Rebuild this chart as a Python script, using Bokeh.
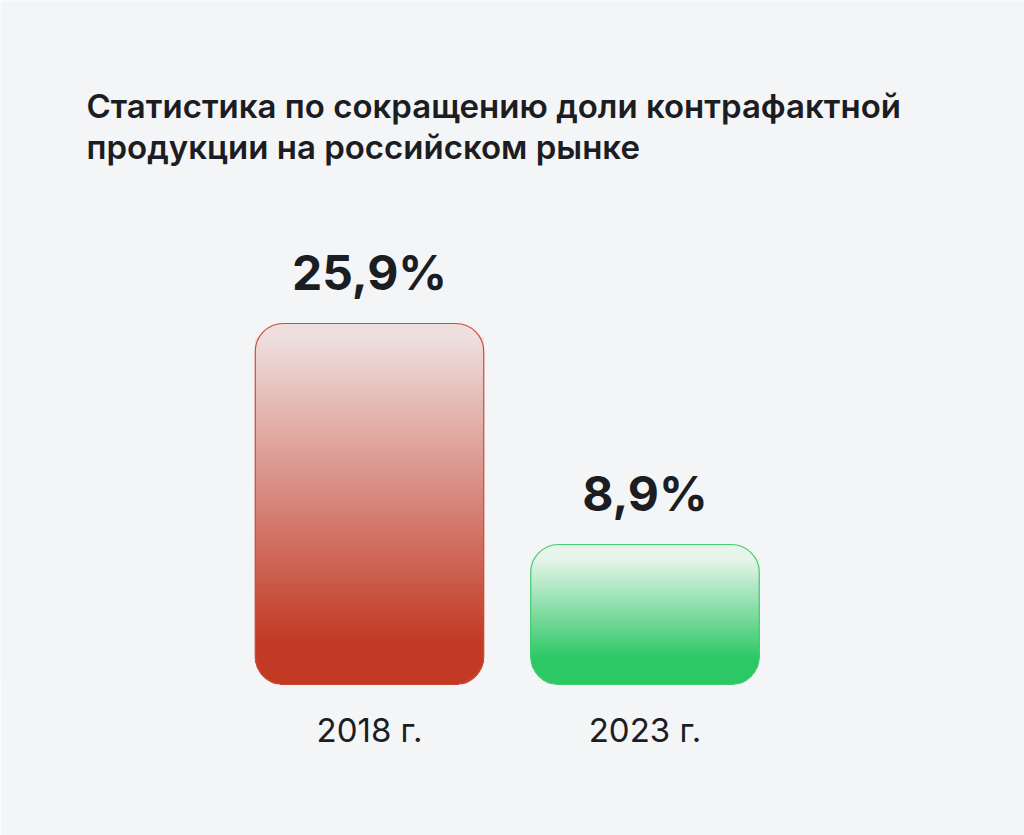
from bokeh.plotting import figure
from bokeh.models import Range1d, FixedTicker, Label, ColumnDataSource
from bokeh.core.properties import value
from bokeh.embed import file_html
from bokeh.resources import INLINE

# ---- data ----
categories = ["2018 г.", "2023 г."]
shares = [25.9, 8.9]
value_labels = ["25,9%", "8,9%"]
title_lines = ["Статистика по сокращению доли контрафактной",
               "продукции на российском рынке"]

# ---- style ----
BG = "#f4f5f7"
TEXT = "#1b1d22"
FONT = "Inter"
TITLE_FONT = "'Inter SemiBold', Inter"
dark_colors = ["#c23a24", "#22c55e"]
light_colors = ["#eedede", "#e6f4ea"]
outline_colors = ["#cf4b3b", "#45cc6c"]
gradient_start = [0.12, 0.15]   # fraction of height where the dark colour ends
bar_base = -1.87                # bars start slightly below zero
PX_PER_UNIT = 13.0
PX_PER_CAT = 275.5
FIG_W, FIG_H = 1024, 835
FRAME_H = 684
RADIUS_PX = 28
bar_width = 228.5 / PX_PER_CAT
x_start = -369 / PX_PER_CAT

x_pos = list(range(len(categories)))

p = figure(width=FIG_W, height=FIG_H, output_backend="svg", toolbar_location=None,
           x_range=Range1d(x_start, x_start + FIG_W / PX_PER_CAT),
           y_range=Range1d(bar_base, bar_base + FRAME_H / PX_PER_UNIT),
           y_axis_location=None,
           min_border_left=0, min_border_right=0, min_border_top=0,
           min_border_bottom=FIG_H - FRAME_H)
p.background_fill_color = BG
p.border_fill_color = BG
p.outline_line_color = None
p.grid.visible = False


def hex_to_rgb(h):
    h = h.lstrip("#")
    return tuple(int(h[i:i + 2], 16) for i in (0, 2, 4))


def mix(c1, c2, t):
    a, b = hex_to_rgb(c1), hex_to_rgb(c2)
    return "#%02x%02x%02x" % tuple(round(a[i] + (b[i] - a[i]) * t) for i in range(3))


rr = RADIUS_PX / PX_PER_UNIT
for i, (xc, v) in enumerate(zip(x_pos, shares)):
    H = v - bar_base
    # base (lightest) bar with all corners rounded
    p.vbar(x=[xc], top=[v], bottom=[bar_base], width=bar_width,
           fill_color=light_colors[i], line_color=None, border_radius=RADIUS_PX)
    # stacked overlays building the vertical gradient
    n = 90 if H * PX_PER_UNIT > 200 else 45
    hi = v - rr * 0.5
    lo = bar_base + rr
    t_end = (hi - bar_base) / H
    step = (hi - lo) / (n - 1)
    tops, cols = [], []
    for k in range(n):
        top = hi - step * k
        t = ((top - step / 2) - bar_base) / H
        g = (t - gradient_start[i]) / (t_end - gradient_start[i])
        tops.append(top)
        cols.append(mix(dark_colors[i], light_colors[i], min(1.0, max(0.0, g))))
    src = ColumnDataSource(dict(x=[xc] * n, top=tops, bottom=[bar_base] * n, color=cols))
    p.vbar(x="x", top="top", bottom="bottom", width=bar_width, source=src,
           fill_color="color", line_color=None,
           border_radius=(0, 0, RADIUS_PX, RADIUS_PX))
    # outline
    p.vbar(x=[xc], top=[v], bottom=[bar_base], width=bar_width,
           fill_color=None, line_color=outline_colors[i], line_width=1.2,
           border_radius=RADIUS_PX)

# value labels above bars
p.text(x=x_pos, y=shares, text=value_labels, text_align="center",
       text_baseline="alphabetic", y_offset=-51,
       text_font=value(FONT), text_font_size="48px", text_font_style="bold",
       text_color=TEXT)

# category axis
ax = p.xaxis[0]
ax.ticker = FixedTicker(ticks=x_pos)
ax.major_label_overrides = {x: c for x, c in zip(x_pos, categories)}
ax.axis_line_color = None
ax.major_tick_line_color = None
ax.minor_tick_line_color = None
ax.major_tick_out = 0
ax.major_tick_in = 0
ax.major_label_standoff = 25
ax.major_label_text_font = FONT
ax.major_label_text_font_size = "33px"
ax.major_label_text_color = TEXT

# title as two lines
for line, sy in zip(title_lines, [FRAME_H - 105, FRAME_H - 146]):
    p.add_layout(Label(x=86, y=sy, x_units="screen", y_units="screen", text=line,
                       text_font=TITLE_FONT, text_font_size="33px",
                       text_color=TEXT, text_baseline="alphabetic"))

html = file_html(p, INLINE)
open("out.html", "w").write(html)
